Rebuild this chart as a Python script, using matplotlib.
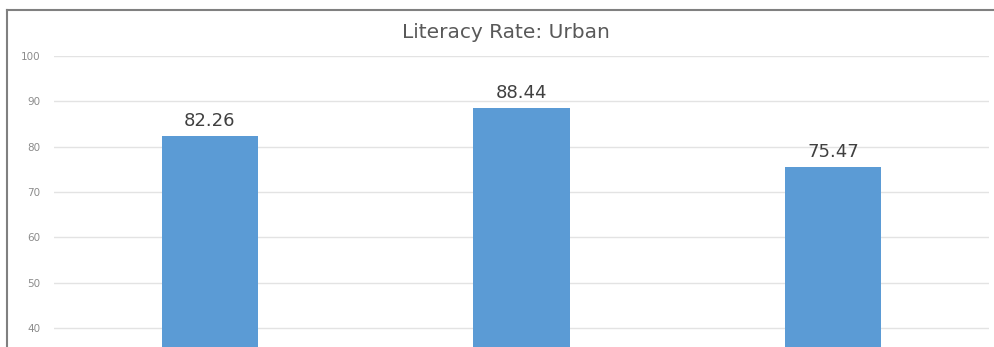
import matplotlib
matplotlib.use("Agg")
import matplotlib.pyplot as plt
from matplotlib.lines import Line2D

# Data
categories = ["A", "B", "C"]
values = [82.26, 88.44, 75.47]
yticks = [40, 50, 60, 70, 80, 90, 100]
title = "Literacy Rate: Urban"

W, H = 995, 347
fig = plt.figure(figsize=(W / 100, H / 100), dpi=100)
fig.patch.set_facecolor("white")

# Plot area in pixel coordinates
left, right, top, bottom = 54, 989, 56, 347
ax = fig.add_axes([left / W, 1 - bottom / H, (right - left) / W, (bottom - top) / H])

x = list(range(len(categories)))
bars = ax.bar(x, values, width=0.31, color="#5b9bd5", zorder=3)
ax.set_xlim(-0.5, len(categories) - 0.5)
ax.set_ylim(35.8, 100)

ax.set_yticks(yticks)
ax.set_yticklabels([str(t) for t in yticks])
ax.tick_params(axis="y", length=0, pad=10, labelsize=7.5, labelcolor="#8c8c8c")
ax.set_xticks([])
ax.grid(axis="y", color="#e3e3e3", linewidth=1.0, zorder=0)
for s in ax.spines.values():
    s.set_visible(False)
for lbl in ax.get_yticklabels():
    lbl.set_fontfamily("DejaVu Sans")

for b, v in zip(bars, values):
    ax.annotate(f"{v:.2f}", (b.get_x() + b.get_width() / 2, v),
                xytext=(0, 4.5), textcoords="offset points",
                ha="center", va="bottom", fontsize=13, color="#404040",
                fontfamily="DejaVu Sans")

fig.text(506 / W, 1 - 32 / H, title, ha="center", va="center",
         fontsize=14.5, color="#595959", fontfamily="DejaVu Sans")

# Chart frame
fig.add_artist(Line2D([7.5 / W, 1.0], [1 - 10 / H, 1 - 10 / H],
                      transform=fig.transFigure, color="#808080", linewidth=1.5))
fig.add_artist(Line2D([7.5 / W, 7.5 / W], [1 - 10 / H, 0],
                      transform=fig.transFigure, color="#808080", linewidth=1.5))

fig.savefig("out.png", dpi=100, facecolor="white")
